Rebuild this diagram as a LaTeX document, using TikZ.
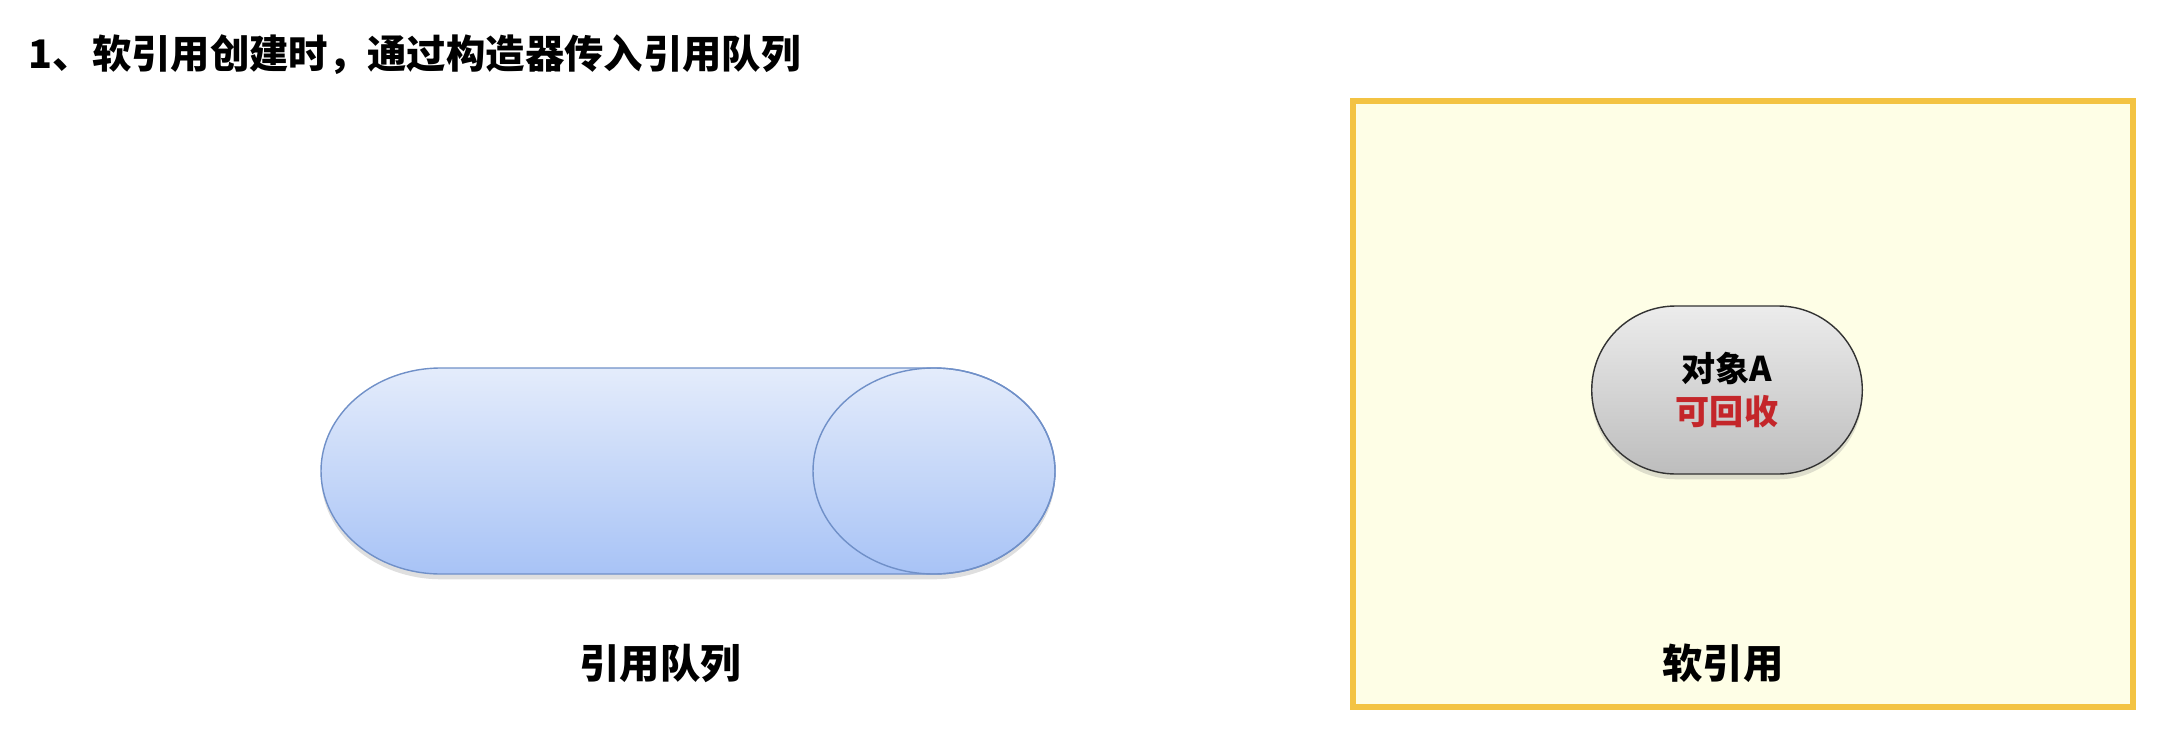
\documentclass[tikz,border=0pt]{standalone}
\usepackage{fontspec}
\setmainfont{Noto Sans CJK SC}
\usepackage{tikz}
\usetikzlibrary{shapes,positioning,shadows}
\usepackage{xcolor}
\definecolor{queue-top}{HTML}{E4ECFB}
\definecolor{queue-bottom}{HTML}{A8C3F6}
\definecolor{queue-line}{HTML}{7090C8}
\definecolor{soft-line}{HTML}{F3C343}
\definecolor{soft-fill}{HTML}{FEFEE6}
\definecolor{obj-top}{HTML}{ECECEC}
\definecolor{obj-bottom}{HTML}{BDBDBD}
\definecolor{recycle-red}{HTML}{C4262A}

\tikzset{caption/.style={font=\bfseries\fontsize{11.5}{14}\selectfont}}

\begin{document}
\begin{tikzpicture}
    \useasboundingbox (0,0) rectangle (21.6,7.44);

    % Title
    \node[anchor=west, inner sep=0pt, font=\bfseries\fontsize{11.2}{14}\selectfont] (title) at (0.28,6.89) {1、软引用创建时，通过构造器传入引用队列};

    % Reference queue (drawn as a lying cylinder)
    \coordinate (qleft) at (4.41,2.73);
    \coordinate (qright) at (9.34,2.73);
    \path[draw=queue-line, thin, top color=queue-top, bottom color=queue-bottom,
          drop shadow={shadow xshift=0pt, shadow yshift=-1.5pt, opacity=0.25}]
        ([yshift=1.03cm]qright) -- ([yshift=1.03cm]qleft)
        arc[start angle=90, end angle=270, x radius=1.20, y radius=1.03]
        -- ([yshift=-1.03cm]qright)
        arc[start angle=-90, end angle=90, x radius=1.21, y radius=1.03] -- cycle;
    \draw[queue-line, thin] (qright) ellipse[x radius=1.21, y radius=1.03];
    \node[caption] (queuelabel) at (6.60,0.81) {引用队列};

    % Soft reference
    \node[rectangle, draw=soft-line, line width=1.6pt, fill=soft-fill, minimum width=7.8cm, minimum height=6.06cm, inner sep=0pt] (soft) at (17.43,3.40) {};
    \node[rounded rectangle, draw=black!80, thin, top color=obj-top, bottom color=obj-bottom, minimum width=2.94cm, minimum height=1.68cm, align=center, font=\bfseries\fontsize{9.7}{12.2}\selectfont, drop shadow={shadow xshift=0pt, shadow yshift=-1.5pt, opacity=0.25}] (obj) at (17.27,3.54) {对象A\\\textcolor{recycle-red}{可回收}};
    \node[caption] (softlabel) at (17.23,0.81) {软引用};
\end{tikzpicture}
\end{document}
